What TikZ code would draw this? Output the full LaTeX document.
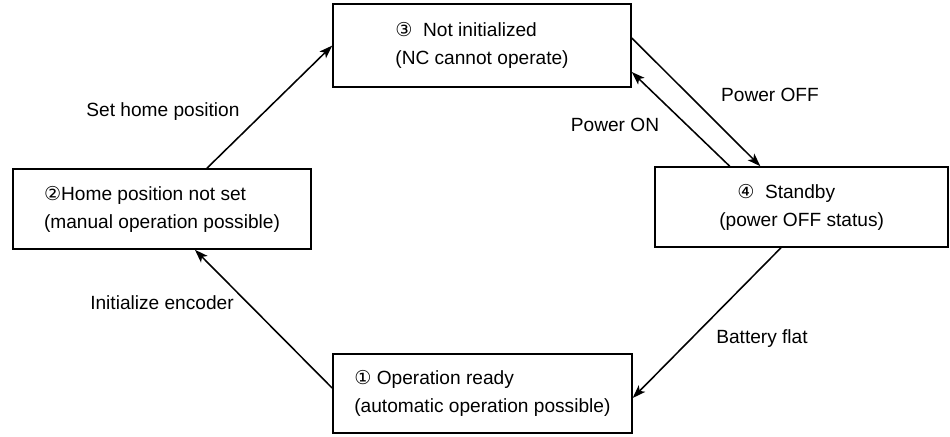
\documentclass[tikz,border=0pt]{standalone}
\usepackage{fontspec}
\setmainfont{Liberation Sans}
\newfontfamily\circfont{DejaVu Sans}
\usetikzlibrary{arrows.meta,positioning,calc}

\begin{document}
\begin{tikzpicture}[>={Stealth[length=3.3mm,width=2.3mm,inset=0.8mm]}, font=\fontsize{13.6}{20}\selectfont,
  state/.style={draw,line width=1.1pt,align=left,minimum height=2cm},
  trans/.style={->,line width=1.1pt}]
\useasboundingbox (0,0) rectangle (23.75,-10.9);

\node[state,minimum width=7.45cm,minimum height=2.075cm] (s3) at (12.05,-1.14) {{\circfont ③}\ \ Not initialized\\(NC cannot operate)};
\node[state,minimum width=7.45cm] (s2) at (4.05,-5.225) {{\circfont ②}Home position not set\\(manual operation possible)};
\node[state,minimum width=7.325cm] (s4) at (20.04,-5.175) {\hspace*{0.45cm}{\circfont ④}\ \ Standby\\(power OFF status)};
\node[state,minimum width=7.475cm,minimum height=1.975cm] (s1) at (12.06,-9.84) {{\circfont ①} Operation ready\\(automatic operation possible)};

% transitions
\draw[trans] ($(s2.north west)!0.65!(s2.north east)$) -- (s3.west);
\draw[trans] ($(s1.west)+(0,0.14)$) -- ($(s2.south west)!0.61!(s2.south east)$);
\draw[trans] ($(s4.south west)!0.43!(s4.south east)$) -- ($(s1.east)+(0,-0.11)$);
\draw[trans] ($(s3.east)+(0,0.19)$) -- ($(s4.north west)!0.36!(s4.north east)$);
\draw[trans] ($(s4.north west)!0.256!(s4.north east)$) -- ($(s3.east)+(0,-0.66)$);

\node (home) at (4.075,-2.8) {Set home position};
\node (enc) at (4.05,-7.575) {Initialize encoder};
\node (off) at (19.25,-2.375) {Power OFF};
\node (on) at (15.375,-3.125) {Power ON};
\node (bat) at (19.05,-8.475) {Battery flat};
\end{tikzpicture}
\end{document}
